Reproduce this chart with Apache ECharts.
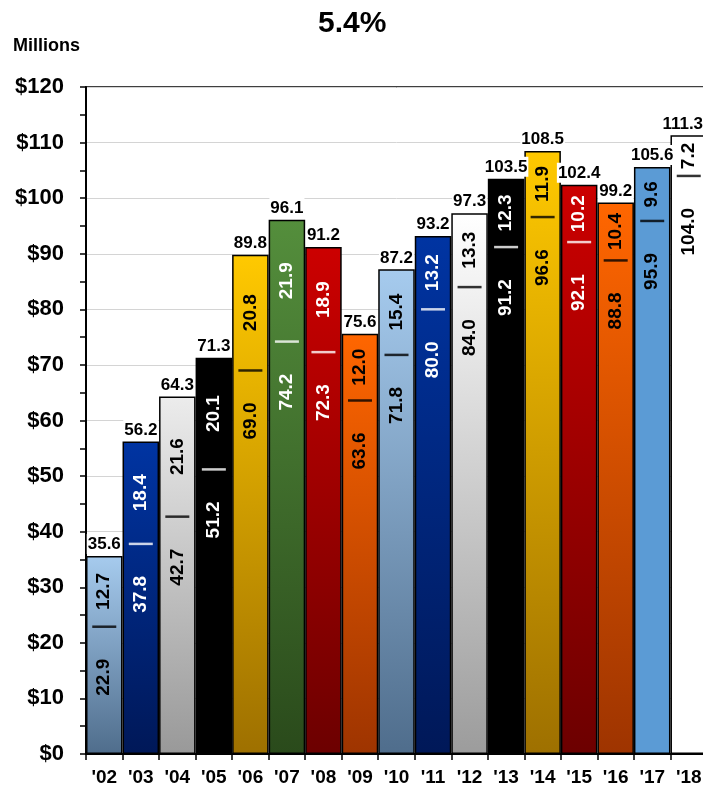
<!DOCTYPE html>
<html>
<head>
<meta charset="utf-8">
<title>5.4%</title>
<script src="https://cdn.jsdelivr.net/npm/echarts@6/dist/echarts.min.js"></script>
<style>
    html, body { margin: 0; padding: 0; background: #fff; overflow: hidden; }
    /* the plot runs a little past the right edge of the window, as in the picture */
    #main { width: 707px; height: 794px; }
</style>
</head>
<body>
<div id="main"></div>
<script>
// values
var years = ["'02", "'03", "'04", "'05", "'06", "'07", "'08", "'09", "'10", "'11", "'12", "'13", "'14", "'15", "'16", "'17", "'18"];
var totals = [35.6, 56.2, 64.3, 71.3, 89.8, 96.1, 91.2, 75.6, 87.2, 93.2, 97.3, 103.5, 108.5, 102.4, 99.2, 105.6, 111.3];
var lowerVals = [22.9, 37.8, 42.7, 51.2, 69.0, 74.2, 72.3, 63.6, 71.8, 80.0, 84.0, 91.2, 96.6, 92.1, 88.8, 95.9, 104.0];
var upperVals = [12.7, 18.4, 21.6, 20.1, 20.8, 21.9, 18.9, 12.0, 15.4, 13.2, 13.3, 12.3, 11.9, 10.2, 10.4, 9.6, 7.2];
var yTicks = [0, 120, 10];

// bar fills (top, bottom) and the text colour used on them
var fills = [
    ['#a6cbee', '#4f6d8c'], ['#0034a2', '#001858'], ['#ececec', '#999999'], ['#000000', '#000000'],
    ['#ffc900', '#9e7000'], ['#548e3c', '#2a4a1b'], ['#cc0000', '#6c0000'], ['#ff6600', '#9e3400'],
    ['#a6cbee', '#4f6d8c'], ['#0034a2', '#001858'], ['#ffffff', '#9c9c9c'], ['#000000', '#000000'],
    ['#ffc900', '#9e7000'], ['#cc0000', '#6c0000'], ['#ff6600', '#9e3400'], ['#5b9bd5', '#5b9bd5'],
    ['#ffffff', '#ffffff']
];
var inkWhite = [1, 3, 5, 6, 9, 11, 13];
function ink(i) { return inkWhite.indexOf(i) >= 0 ? '#ffffff' : '#000000'; }

var FONT = 'Liberation Sans, Arial, sans-serif';

var myChart = echarts.init(document.getElementById('main'));

var totalData = totals.map(function (v, i) {
    var item = {
        value: v,
        itemStyle: {
            color: new echarts.graphic.LinearGradient(0, 0, 0, 1, [
                { offset: 0, color: fills[i][0] },
                { offset: 1, color: fills[i][1] }
            ])
        }
    };
    // last label is pulled in so it stays inside the picture
    if (i === totals.length - 1) {
        item.label = { offset: [-6, 0] };
    }
    return item;
});
var lowerData = lowerVals.map(function (v, i) {
    return { value: v, label: { color: ink(i) } };
});
var upperData = upperVals.map(function (v, i) {
    return { value: v, label: { color: ink(i) } };
});
var markData = lowerVals.map(function (v, i) {
    return { value: v, itemStyle: { color: ink(i) } };
});

var option = {
    backgroundColor: '#fff',
    animation: false,
    title: {
        text: '5.4%',
        left: 313,
        top: 4,
        textStyle: { fontFamily: FONT, fontSize: 30, fontWeight: 'bold', color: '#000' }
    },
    graphic: [{
        type: 'text',
        left: 13,
        top: 37,
        style: { text: 'Millions', fontFamily: FONT, fontSize: 18, fontWeight: 'bold', fill: '#000' }
    }],
    grid: {
        left: 86,
        right: 0,
        top: 87,
        bottom: 40,
        show: true,
        borderColor: '#000',
        borderWidth: 1.5
    },
    xAxis: {
        type: 'category',
        data: years,
        axisLine: { lineStyle: { color: '#000', width: 2 } },
        axisTick: { show: true, length: 6, lineStyle: { color: '#000', width: 1.5 } },
        axisLabel: {
            interval: 0,
            hideOverlap: false,
            color: '#000', fontFamily: FONT, fontSize: 19, fontWeight: 'bold', margin: 14
        }
    },
    yAxis: {
        type: 'value',
        min: yTicks[0],
        max: yTicks[1],
        interval: yTicks[2],
        axisLine: { show: true, lineStyle: { color: '#000', width: 2 } },
        axisTick: { show: true, length: 6, lineStyle: { color: '#000', width: 1.5 } },
        minorTick: { show: true, splitNumber: 2, length: 6, lineStyle: { color: '#000', width: 1.5 } },
        splitLine: { show: true, lineStyle: { color: '#d4d4d4', width: 1 } },
        axisLabel: {
            color: '#000', fontFamily: FONT, fontSize: 22, fontWeight: 'bold', margin: 22,
            formatter: function (v) { return '$' + v; }
        }
    },
    series: [
        {
            name: 'total',
            type: 'bar',
            data: totalData,
            barCategoryGap: '0%',
            barGap: '-100%',
            itemStyle: { borderColor: '#000', borderWidth: 1.5 },
            label: {
                show: true,
                position: 'top',
                distance: 2,
                color: '#000',
                fontFamily: FONT,
                fontSize: 17,
                fontWeight: 'bold',
                backgroundColor: '#fff',
                padding: [2, 1, 1, 1],
                formatter: function (p) { return p.value.toFixed(1); }
            },
            z: 2
        },
        {
            name: 'lower',
            type: 'bar',
            stack: 'parts',
            data: lowerData,
            barCategoryGap: '0%',
            barGap: '-100%',
            itemStyle: { color: 'transparent' },
            label: {
                show: true,
                position: 'insideTop',
                distance: 32,
                rotate: 90,
                align: 'right',
                verticalAlign: 'middle',
                fontFamily: FONT,
                fontSize: 19,
                fontWeight: 'bold',
                formatter: function (p) { return p.value.toFixed(1); }
            },
            z: 3
        },
        {
            name: 'upper',
            type: 'bar',
            stack: 'parts',
            data: upperData,
            barCategoryGap: '0%',
            barGap: '-100%',
            itemStyle: { color: 'transparent' },
            label: {
                show: true,
                position: 'inside',
                rotate: 90,
                fontFamily: FONT,
                fontSize: 19,
                fontWeight: 'bold',
                formatter: function (p) { return p.value.toFixed(1); }
            },
            z: 3
        },
        {
            // short dash where the two parts meet
            name: 'split',
            type: 'scatter',
            data: markData,
            symbol: 'rect',
            symbolSize: [24, 2.5],
            z: 4
        }
    ]
};

myChart.setOption(option);
</script>
</body>
</html>
